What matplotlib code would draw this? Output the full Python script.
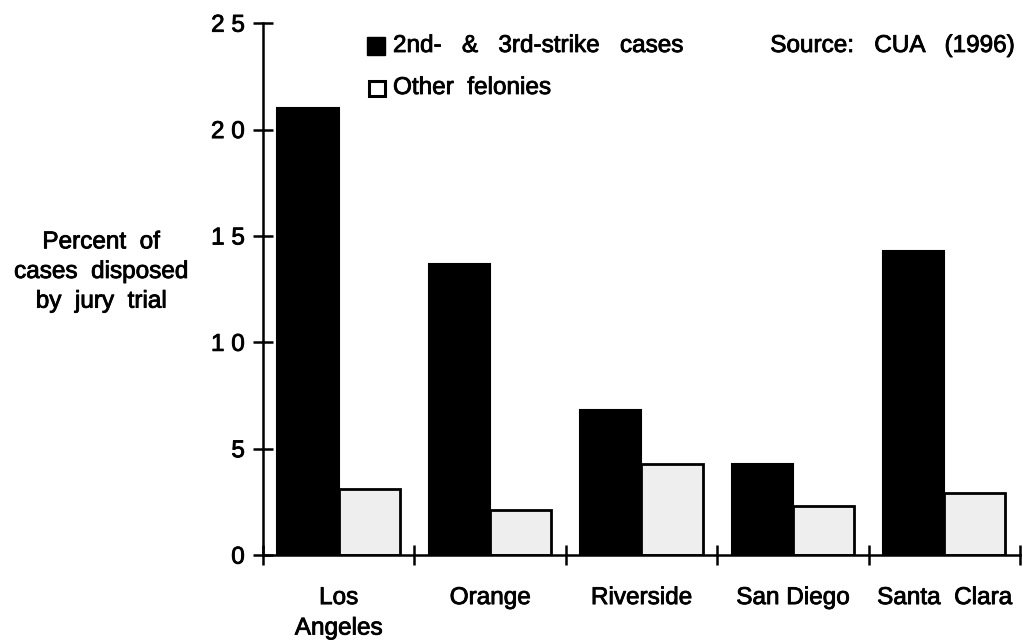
import matplotlib
matplotlib.use("Agg")
import matplotlib.pyplot as plt
import matplotlib.patheffects as pe
import numpy as np
from matplotlib.patches import Rectangle

categories = ["Los\nAngeles", "Orange", "Riverside", "San Diego", "Santa  Clara"]
strike_cases = [21.0, 13.7, 6.8, 4.3, 14.3]
other_felonies = [3.1, 2.1, 4.3, 2.3, 2.9]
yticks = [0, 5, 10, 15, 20, 25]
ytick_labels = ["0", "5", "1 0", "1 5", "2 0", "2 5"]

plt.rcParams['font.family'] = ['Liberation Sans', 'DejaVu Sans']
FS = 17.5
thick = [pe.withStroke(linewidth=0.6, foreground='black')]

fig = plt.figure(figsize=(10.23, 6.44), dpi=100)
ax = fig.add_axes([0.257, 0.138, 0.740, 0.826])

x = np.arange(len(categories))
w = 0.404
ax.bar(x - w / 2, strike_cases, w, color='black', edgecolor='black', linewidth=1.5)
ax.bar(x + w / 2, other_felonies, w, color='#eeeeee', edgecolor='black', linewidth=2)

ax.set_xlim(-0.5, len(categories) - 0.5)
ax.set_ylim(0, 25)
for s in ['top', 'right']:
    ax.spines[s].set_visible(False)
for s in ['left', 'bottom']:
    ax.spines[s].set_linewidth(1.8)

ax.set_yticks(yticks)
ax.set_yticklabels(ytick_labels, fontsize=FS)
ax.tick_params(axis='y', direction='inout', length=14, width=1.8, pad=6)

ax.set_xticks(np.arange(len(categories) + 1) - 0.5)
ax.set_xticklabels([])
ax.tick_params(axis='x', which='major', direction='inout', length=15, width=1.8)
ax.set_xticks(x, minor=True)
ax.set_xticklabels(categories, minor=True, fontsize=FS, linespacing=1.5)
ax.tick_params(axis='x', which='minor', length=0, pad=23)

for t in ax.get_yticklabels() + ax.get_xticklabels(minor=True):
    t.set_path_effects(thick)

texts = []
texts.append(fig.text(101 / 1023, 1 - 272 / 644, "Percent  of\ncases  disposed\nby  jury  trial",
                      ha='center', va='center', fontsize=FS, linespacing=1.45))

# legend
fig.patches.append(Rectangle((367 / 1023, 1 - 55 / 644), 18 / 1023, 18 / 644,
                             transform=fig.transFigure, facecolor='black', edgecolor='black', lw=1.0))
fig.patches.append(Rectangle((369 / 1023, 1 - 96 / 644), 16 / 1023, 15 / 644,
                             transform=fig.transFigure, facecolor='white', edgecolor='black', lw=2.2))
texts.append(fig.text(393 / 1023, 1 - 46 / 644, "2nd-   &   3rd-strike   cases", fontsize=FS, va='center'))
texts.append(fig.text(393 / 1023, 1 - 88 / 644, "Other  felonies", fontsize=FS, va='center'))
texts.append(fig.text(1014 / 1023, 1 - 46 / 644, "Source:   CUA   (1996)", fontsize=FS,
                      va='center', ha='right'))
for t in texts:
    t.set_path_effects(thick)

fig.savefig("out.png", dpi=100)
